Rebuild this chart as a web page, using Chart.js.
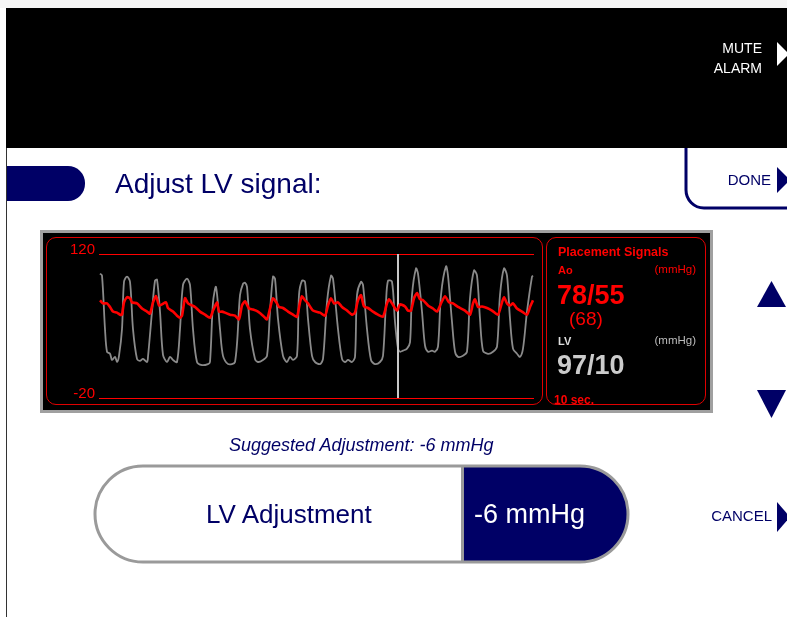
<!DOCTYPE html>
<html>
<head>
<meta charset="utf-8">
<script src="https://cdn.jsdelivr.net/npm/chart.js@4.4.1/dist/chart.umd.min.js"></script>
<style>
  body { margin: 0; width: 787px; height: 617px; background: #fff; position: relative; overflow: hidden;
         font-family: "Liberation Sans", Arial, sans-serif; }
  .box { position: absolute; box-sizing: border-box; }
  .t { position: absolute; white-space: nowrap; line-height: 1; }
  .navy { color: #000066; }
  .red { color: #ff0000; }
</style>
</head>
<body>
<div class="box" style="left:0;top:0;width:787px;height:8px;background:#f6f6f6"></div>
<div class="box" style="left:6px;top:8px;width:781px;height:140px;background:#000"></div>
<div class="box" style="left:6px;top:148px;width:1px;height:469px;background:#333"></div>
<div class="box" style="left:7px;top:166px;width:78px;height:35px;background:#000066;border-radius:0 17px 17px 0"></div>

<!-- monitor -->
<div class="box" style="left:40px;top:230px;width:673px;height:183px;background:#000;border:3px solid #a0a0a0"></div>
<div class="box" style="left:46px;top:237px;width:497px;height:168px;border:1px solid #e00000;border-radius:10px"></div>
<div class="box" style="left:546px;top:237px;width:160px;height:168px;border:1px solid #e00000;border-radius:10px"></div>
<canvas id="wave" width="494" height="167" style="position:absolute;left:47px;top:238px"></canvas>

<svg class="box" width="787" height="617" style="left:0;top:0">
  <polygon points="777,42 777,66 789,54" fill="#fff"/>
  <path d="M686,148 V190 A18,18 0 0 0 704,208 H787" stroke="#000066" stroke-width="3" fill="none"/>
  <polygon points="777,167 777,193 790,180" fill="#000066"/>
  <polygon points="757,307 786,307 771.5,281" fill="#000066"/>
  <polygon points="757,390 786,390 771.5,418" fill="#000066"/>
  <polygon points="777,502 777,532 790,517" fill="#000066"/>
  <clipPath id="pill"><rect x="95" y="466" width="533" height="96" rx="48"/></clipPath>
  <g clip-path="url(#pill)">
    <rect x="95" y="466" width="533" height="96" fill="#fff"/>
    <rect x="463" y="466" width="165" height="96" fill="#000066"/>
    <line x1="462.5" y1="466" x2="462.5" y2="562" stroke="#9a9a9a" stroke-width="3"/>
  </g>
  <rect x="95" y="466" width="533" height="96" rx="48" fill="none" stroke="#9a9a9a" stroke-width="3"/>
</svg>

<div class="t" style="right:25px;top:41px;font-size:14px;color:#fff">MUTE</div>
<div class="t" style="right:25px;top:61px;font-size:14px;color:#fff">ALARM</div>
<div class="t navy" style="right:16px;top:172px;font-size:15px">DONE</div>
<div class="t navy" style="right:15px;top:508px;font-size:15px">CANCEL</div>
<div class="t navy" style="left:115px;top:170px;font-size:28px">Adjust LV signal:</div>
<div class="t navy" style="left:229px;top:436px;font-size:18px;font-style:italic">Suggested Adjustment: -6 mmHg</div>
<div class="t navy" style="left:206px;top:501px;font-size:26px">LV Adjustment</div>
<div class="t" style="left:474px;top:501px;font-size:27px;color:#fff">-6 mmHg</div>

<div class="t red" style="left:558px;top:246px;font-size:12.5px;font-weight:bold">Placement Signals</div>
<div class="t red" style="left:558px;top:265px;font-size:11px;font-weight:bold">Ao</div>
<div class="t red" style="right:91px;top:264px;font-size:11.5px">(mmHg)</div>
<div class="t red" style="left:557px;top:282px;font-size:27px;font-weight:bold">78/55</div>
<div class="t red" style="left:569px;top:309px;font-size:19px">(68)</div>
<div class="t" style="left:558px;top:336px;font-size:11px;font-weight:bold;color:#ddd">LV</div>
<div class="t" style="right:91px;top:335px;font-size:11.5px;color:#bbb">(mmHg)</div>
<div class="t" style="left:557px;top:352px;font-size:27px;font-weight:bold;color:#ccc">97/10</div>
<div class="t red" style="left:554px;top:394px;font-size:12px;font-weight:bold">10 sec.</div>

<script>
// sweep position (display samples, 0..435 = 10 sec) and pressures in mmHg
var yTicks = [-20, 120];

var lvX = [1, 3, 6, 8, 11, 13, 16, 18, 20,
  23, 25, 28, 31, 34, 38, 41, 44, 48, 49,
  53, 56, 58, 61, 64, 68, 71, 74, 78,
  81, 84, 88, 91, 94, 98, 103, 109, 111,
  114, 117, 121, 124, 129, 136,
  141, 144, 146, 148, 151, 156, 159, 164, 168,
  171, 174, 176, 179, 184, 188, 191, 194, 198,
  200, 203, 206, 209, 213, 216, 221, 224,
  228, 232, 234, 239, 243, 246, 249, 253, 256,
  258, 262, 264, 268, 272, 276, 281, 284,
  287, 289, 293, 296, 299, 301, 304, 308, 311,
  313, 317, 319, 323, 326, 329, 333, 336, 339,
  342, 347, 349, 353, 356, 359, 364, 368,
  371, 375, 378, 381, 384, 389, 394, 398,
  401, 405, 408, 411, 414, 418, 421, 424,
  428, 433, 434];
var lvP = [101, 99, 47, 25, 23, 17, 20, 15, 21,
  47, 93, 98, 93, 47, 18, 16, 18, 15, 20,
  64, 94, 95, 64, 22, 15, 20, 17, 15,
  47, 90, 96, 90, 47, 15, 12, 13, 15,
  73, 88, 47, 21, 13, 15,
  80, 91, 92, 88, 47, 18, 15, 17, 21,
  64, 98, 96, 57, 21, 15, 20, 17, 21,
  80, 94, 93, 57, 21, 15, 13, 18,
  73, 99, 96, 47, 18, 15, 17, 15, 20,
  80, 93, 90, 47, 17, 13, 15, 21,
  73, 94, 93, 54, 28, 25, 26, 28, 34,
  80, 106, 101, 64, 31, 25, 26, 25, 30,
  80, 108, 99, 54, 25, 20, 21, 25,
  77, 104, 99, 57, 26, 23, 25, 30,
  80, 106, 99, 57, 28, 23, 20, 28,
  64, 98, 99];

var aoX = [1, 4, 8, 11, 14, 18, 21, 23,
  25, 28, 31, 33, 38, 43, 48, 51,
  54, 57, 60, 63, 67, 69, 74, 78, 81, 83,
  86, 89, 93, 96, 101, 106, 111,
  114, 118, 120, 123, 126, 131, 136, 140,
  143, 146, 150, 154, 159, 164, 168,
  171, 174, 178, 180, 184, 189, 194, 198,
  201, 203, 206, 209, 214, 221, 226,
  229, 232, 235, 239, 243, 248, 253, 256,
  259, 262, 265, 269, 274, 279, 284,
  288, 290, 293, 298, 301, 306, 309, 312,
  315, 318, 321, 324, 329, 334, 338,
  342, 346, 350, 354, 359, 366, 371,
  374, 376, 379, 383, 388, 393, 399,
  403, 405, 408, 411, 414, 418, 423, 428, 431, 434];
var aoP = [75, 72, 72, 68.5, 64, 63, 61, 61,
  73, 78, 77, 73, 72, 67, 64, 62,
  73, 79, 70, 71, 73, 67.5, 64, 60, 58, 60,
  77, 72, 70, 68.5, 64, 61, 58,
  65, 73, 64, 64, 63, 61, 60, 56.5,
  70, 74, 67, 66, 64, 60, 56.5,
  67, 77, 72, 68.5, 67.5, 64, 61, 59,
  73, 79, 75, 72, 65, 63, 60,
  70, 77, 72, 73, 68.5, 65, 61, 63,
  75, 80, 69, 67.5, 64, 61, 59,
  72, 76, 72, 65, 71, 69, 65, 65,
  77, 82, 76, 75, 70, 67, 64,
  72, 79, 73, 72, 68.5, 65, 61,
  72, 76, 68.5, 69, 67.5, 65, 61,
  73, 78, 72, 70, 72, 67, 64, 61, 68.5, 75];

var cursorX = [299, 299];
var cursorP = [120, -20];

function pts(xs, ys) {
	return xs.map(function (x, i) { return { x: x, y: ys[i] }; });
}

var ctx = document.getElementById('wave').getContext('2d');
var chart = new Chart(ctx, {
	type: 'line',
	data: {
		datasets: [
			{ data: pts(aoX, aoP), borderColor: '#ff0000', borderWidth: 2.6, pointRadius: 0, tension: 0.2 },
			{ data: pts(cursorX, cursorP), borderColor: '#c8c8c8', borderWidth: 2, pointRadius: 0 },
			{ data: pts(lvX, lvP), borderColor: '#8a8a8a', borderWidth: 1.8, pointRadius: 0, tension: 0.3 }
		]
	},
	options: {
		responsive: false,
		animation: false,
		devicePixelRatio: 1,
		layout: { padding: { top: 16, bottom: 7, left: 0, right: 7 } },
		plugins: { legend: { display: false }, tooltip: { enabled: false } },
		scales: {
			x: { type: 'linear', min: 0, max: 435, display: false },
			y: {
				min: -20,
				max: 120,
				afterBuildTicks: function (axis) {
					axis.ticks = yTicks.map(function (v) { return { value: v }; });
				},
				afterFit: function (scale) {
					scale.width = 52;
					scale.paddingTop = 0;
					scale.paddingBottom = 0;
				},
				ticks: {
					color: '#ff0000',
					padding: 4,
					labelOffset: -4,
					font: { size: 15, family: '"Liberation Sans", Arial, sans-serif' },
					callback: function (v) { return String(v); }
				},
				grid: { color: '#ff0000', lineWidth: 1, drawTicks: false },
				border: { display: false }
			}
		}
	}
});
</script>
</body>
</html>
